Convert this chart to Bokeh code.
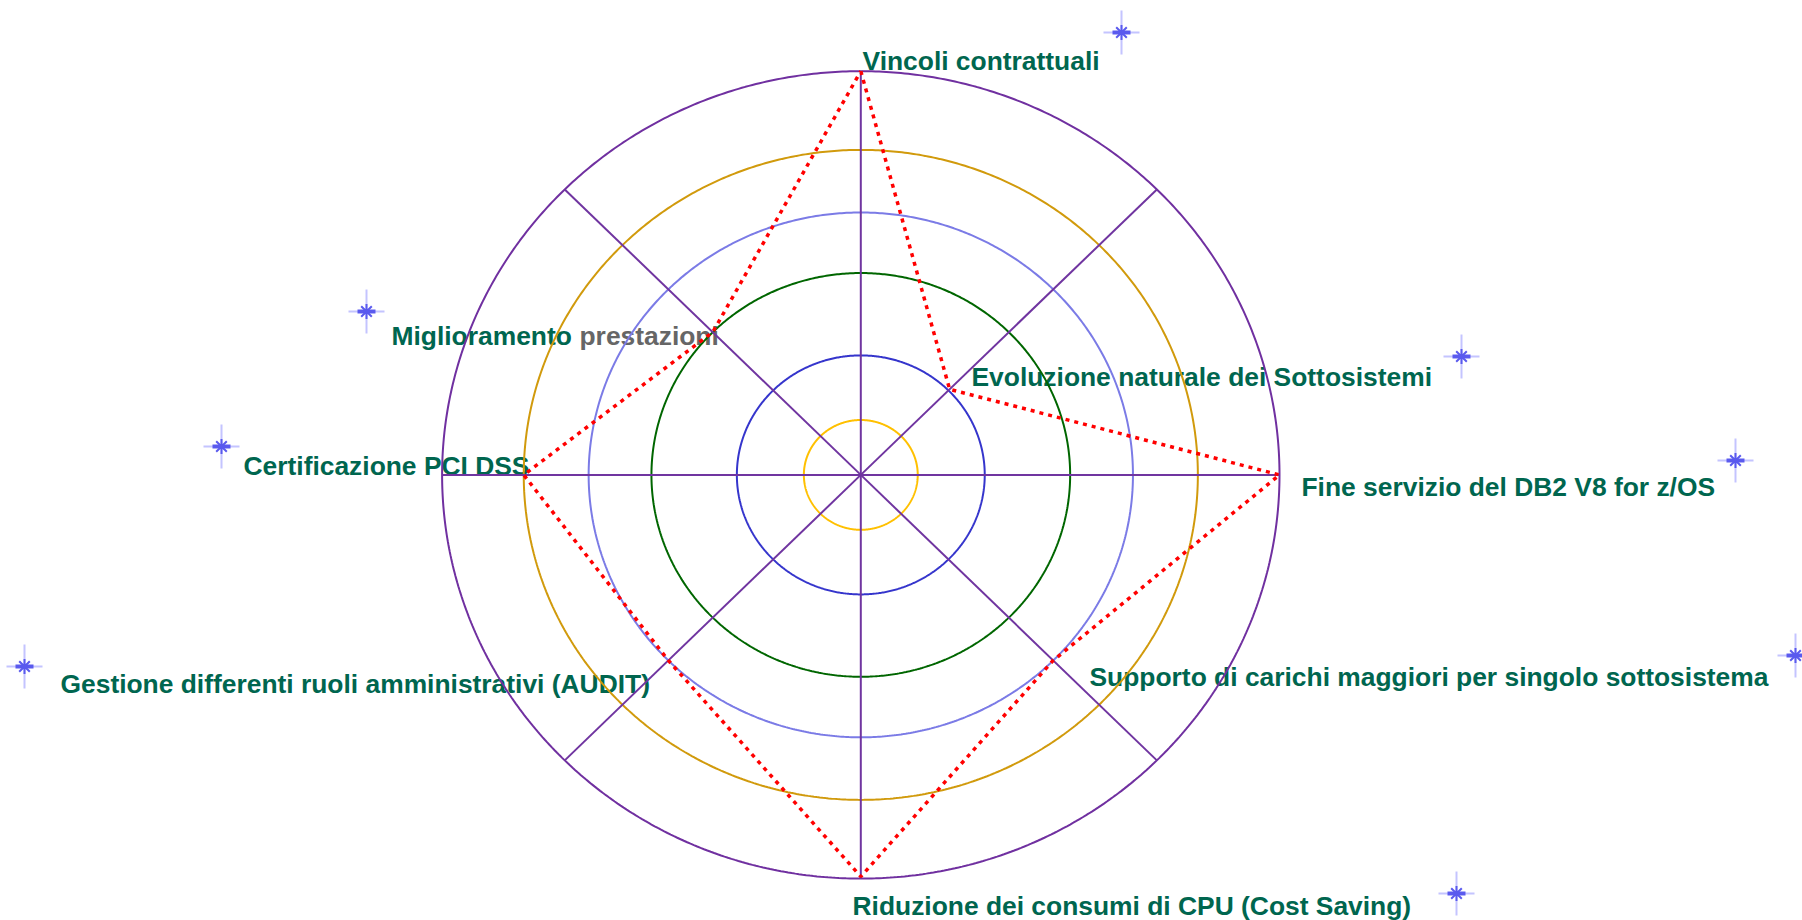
import numpy as np
from bokeh.plotting import figure
from bokeh.models import Range1d
from bokeh.embed import file_html
from bokeh.resources import INLINE
from bokeh.core.properties import value

# ---------------- data ----------------
categories = [
    "Vincoli contrattuali",
    "Evoluzione naturale dei Sottosistemi",
    "Fine servizio del DB2 V8 for z/OS",
    "Supporto di carichi maggiori per singolo sottosistema",
    "Riduzione dei consumi di CPU (Cost Saving)",
    "Gestione differenti ruoli amministrativi (AUDIT)",
    "Certificazione PCI DSS",
    "Miglioramento prestazioni",
]
values = [100, 30, 100, 65, 99.5, 65, 80.5, 50]
ring_levels = [13.6, 29.6, 50, 65, 80.5, 100]

# ---------------- styles / layout ----------------
ring_colors = ["#FFC000", "#3535CC", "#006600", "#7B7BE6", "#D19A0C", "#7030A0"]
spoke_color = "#7035A0"
label_color = "#00664F"
gray_color = "#666666"

W, H = 1802, 920
CX, CY = 860.3, 474.4          # chart centre (page pixels)
SX, SY = 4.187, 4.037          # pixels per value unit (horizontal / vertical)

# label anchors (left x, baseline y) in page pixels
label_pos = [(862, 60), (971, 376.5), (1301, 486), (1089, 676.5),
             (852, 905), (60, 683), (243, 465), (391, 335)]
# sparkle decorations (page pixels)
star_pos = [(1121, 32), (1461, 356), (1735, 460), (1795, 655),
            (1456, 893), (24, 666), (221, 446), (366, 311)]

n = len(categories)
angles = np.deg2rad(90 - 45 * np.arange(n))   # clockwise from the top


def to_xy(r, a):
    return CX + r * SX * np.cos(a), CY - r * SY * np.sin(a)


p = figure(width=W, height=H, x_range=Range1d(0, W), y_range=Range1d(H, 0),
           output_backend="svg", toolbar_location=None, min_border=0,
           x_axis_type=None, y_axis_type=None)
p.grid.visible = False
p.outline_line_color = None
p.background_fill_color = "white"
p.border_fill_color = "white"

# labels (drawn first, lines go over them)
font = value("Liberation Sans")
for i, name in enumerate(categories):
    lx, ly = label_pos[i]
    if name == "Miglioramento prestazioni":
        first, second = name.split(" ", 1)
        p.text(x=[lx], y=[ly], text=[first], text_font=font, text_font_style="bold",
               text_font_size="26.4px", text_color=label_color,
               text_baseline="alphabetic", text_align="left")
        p.text(x=[579], y=[ly], text=[second], text_font=font, text_font_style="bold",
               text_font_size="26.4px", text_color=gray_color,
               text_baseline="alphabetic", text_align="left")
    else:
        p.text(x=[lx], y=[ly], text=[name], text_font=font, text_font_style="bold",
               text_font_size="26.4px", text_color=label_color,
               text_baseline="alphabetic", text_align="left")

# rings
t = np.linspace(0, 2 * np.pi, 721)
for lvl, col in zip(ring_levels, ring_colors):
    rx, ry = to_xy(lvl, t)
    p.line(rx, ry, line_color=col, line_width=2)

# spokes
ex, ey = to_xy(ring_levels[-1], angles)
p.segment(x0=[CX] * n, y0=[CY] * n, x1=list(ex), y1=list(ey),
          line_color=spoke_color, line_width=2)

# data polygon
vx, vy = to_xy(np.array(values, dtype=float), angles)
p.line(list(vx) + [vx[0]], list(vy) + [vy[0]], line_color="#FF0000",
       line_width=3.5, line_dash="4 5")

# sparkles
sx = [s[0] for s in star_pos]
sy = [s[1] for s in star_pos]
p.segment(x0=[x - 18 for x in sx], y0=sy, x1=[x + 18 for x in sx], y1=sy,
          line_color="#C4C4FF", line_width=2)
p.segment(x0=sx, y0=[y - 22 for y in sy], x1=sx, y1=[y + 22 for y in sy],
          line_color="#C4C4FF", line_width=2)
p.scatter(sx, sy, marker="asterisk", size=15, line_color="#5A5AEE", line_width=2)
p.scatter(sx, sy, marker="dash", size=18, line_color="#5A5AEE", line_width=4)

open("out.html", "w").write(file_html(p, INLINE))
